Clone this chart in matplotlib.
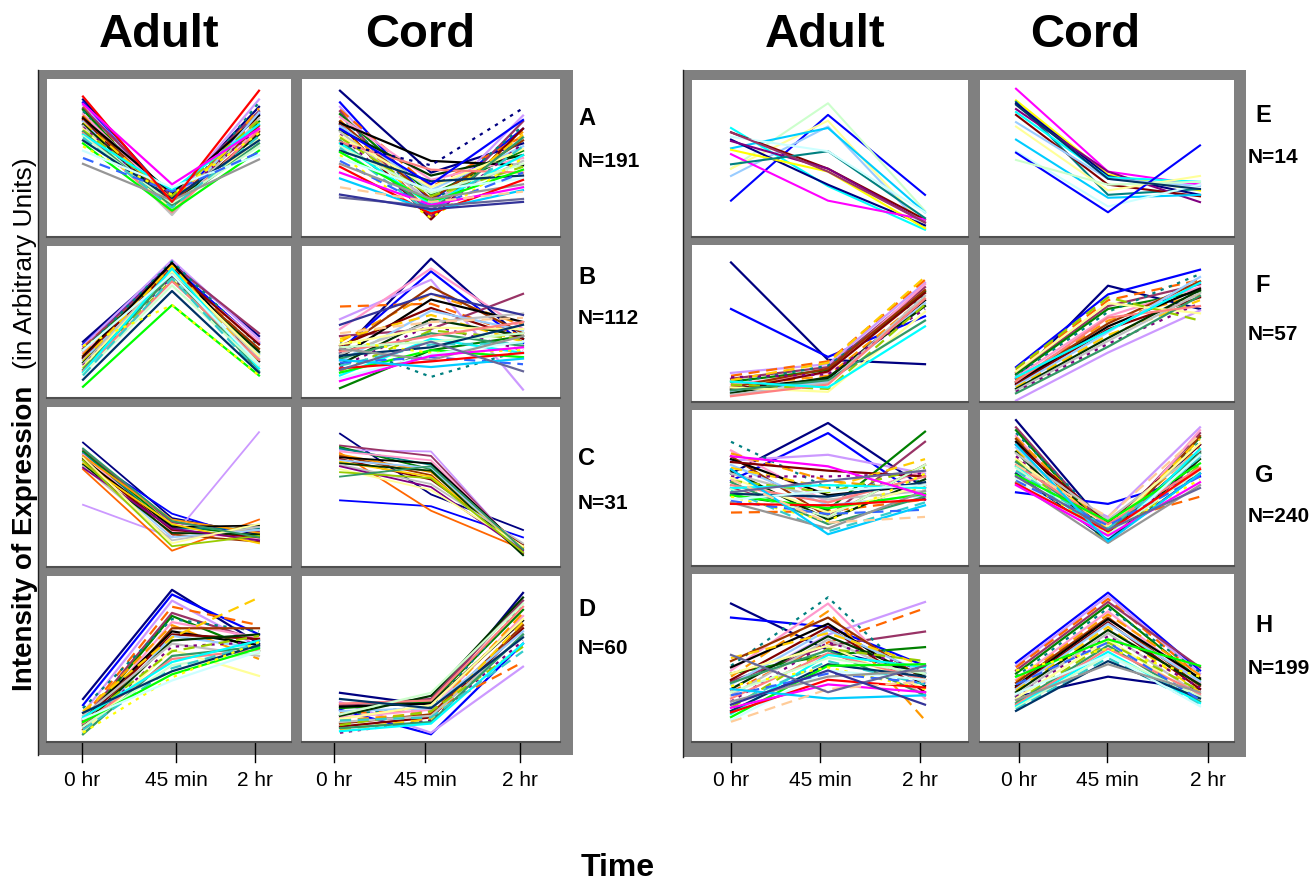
import matplotlib
matplotlib.use("Agg")
import matplotlib.pyplot as plt
from matplotlib.patches import Rectangle

plt.rcParams['font.family'] = ['Liberation Sans', 'DejaVu Sans']

# ---- data: each profile is (0 hr, 45 min, 2 hr), arbitrary units 0-100 ----
TIMES = ["0 hr", "45 min", "2 hr"]
CLUSTERS = ["A", "B", "C", "D", "E", "F", "G", "H"]
N_GENES = [191, 112, 31, 60, 14, 57, 240, 199]

A_ADULT = [(90,22,85),(88,18,80),(86,20,90),(85,15,78),(84,24,82),(83,17,75),(82,14,88),(80,21,70),
           (79,12,84),(78,19,72),(77,26,79),(76,16,68),(75,13,81),(74,22,74),(73,18,66),(72,11,77),
           (71,20,71),(70,15,63),(69,24,76),(68,17,60),(67,13,69),(66,28,73),(65,19,58),(64,16,65),
           (62,22,62),(60,14,55),(58,25,67),(55,30,52),(50,27,54),(46,21,49),(92,20,96),(87,32,70)]
A_CORD = [(96,40,60),(88,20,70),(85,15,79),(83,30,65),(82,10,75),(80,25,55),(79,18,72),(78,35,50),
          (76,12,68),(75,22,62),(74,48,45),(73,8,70),(72,28,58),(70,16,66),(69,38,52),(68,20,48),
          (66,10,60),(65,30,56),(64,24,44),(62,14,64),(61,42,40),(60,18,52),(58,26,46),(57,12,58),
          (55,34,38),(54,20,42),(52,9,50),(50,28,36),(48,16,40),(46,22,32),(44,12,35),(40,18,30),
          (36,14,28),(30,20,27),(23,17,22),(25,15,20),(60,45,84),(70,32,76)]
B_ADULT = [(36,92,40),(34,90,35),(33,94,38),(32,88,30),(31,91,42),(30,87,28),(29,93,33),(28,86,36),
           (27,89,25),(26,85,31),(25,92,22),(24,88,34),(23,84,27),(22,90,20),(21,83,29),(20,87,24),
           (19,82,18),(18,86,26),(17,80,21),(16,84,15),(15,79,23),(14,88,17),(13,76,19),(12,81,14),
           (9,72,14),(4,62,12),(33,62,12),(30,84,20)]
B_CORD = [(28,95,38),(30,86,35),(52,80,2),(61,63,40),(40,45,70),(3,30,40),(35,11,30),(45,88,45),
          (36,70,48),(30,75,42),(25,66,50),(33,60,38),(22,58,44),(38,55,36),(20,52,40),(27,50,56),
          (18,48,30),(34,46,45),(15,44,38),(24,42,33),(29,40,50),(12,38,28),(32,36,42),(19,34,35),
          (26,32,48),(14,30,25),(37,28,30),(10,27,36),(21,25,20),(31,23,40),(17,22,28),(8,26,32),
          (23,18,24),(42,50,53),(16,36,15),(48,70,55)]
C_ADULT = [(80,29,18),(72,32,14),(38,16,87),(62,7,28),(75,26,20),(74,24,17),(73,22,22),(72,20,15),
           (71,28,19),(70,18,13),(69,23,24),(68,21,16),(67,16,21),(66,25,12),(65,19,18),(64,14,23),
           (63,22,14),(70,12,25),(68,10,17),(76,27,16)]
C_CORD = [(86,45,21),(41,37,16),(75,74,5),(73,34,8),(78,71,6),(77,62,9),(76,65,4),(74,68,7),
          (72,60,10),(71,58,5),(70,66,8),(69,55,11),(68,63,6),(67,57,9),(66,61,4),(65,52,12),
          (64,50,7),(62,48,10),(60,56,6),(57,64,8)]
D_ADULT = [(24,95,60),(20,92,66),(15,88,58),(12,84,72),(10,80,62),(8,78,55),(18,76,68),(6,74,64),
           (14,72,50),(4,70,70),(11,68,59),(9,66,63),(2,65,57),(16,64,90),(7,62,66),(13,60,52),
           (5,58,61),(3,56,39),(10,55,65),(1,52,58),(8,50,56),(12,48,62),(6,46,54),(4,44,60),
           (15,42,59),(9,40,57),(2,38,61),(11,36,55)]
D_CORD = [(28,20,93),(17,1,60),(22,2,45),(15,16,48),(20,24,88),(18,22,82),(14,19,85),(12,17,78),
          (10,15,80),(8,14,72),(19,21,75),(6,12,70),(16,18,68),(4,11,74),(13,26,90),(9,13,65),
          (2,10,62),(11,20,76),(7,16,58),(5,9,66),(21,23,84),(3,8,60),(14,28,86),(10,12,55),(24,18,64)]
E_ADULT = [(21,80,25),(43,88,14),(43,76,3),(38,72,2),(57,71,13),(71,31,1),(68,43,8),(63,32,4),
           (62,43,6),(56,41,2),(53,21,8),(46,55,9),(65,55,13),(68,41,6)]
E_CORD = [(98,41,32),(90,39,28),(89,25,29),(88,38,25),(84,41,20),(82,37,34),(80,32,24),(75,36,31),
          (72,28,38),(63,23,25),(55,17,32),(54,13,59),(49,32,34),(87,36,29)]
F_ADULT = [(92,25,22),(60,27,55),(16,22,78),(14,24,80),(12,20,75),(10,18,72),(9,21,70),(8,16,77),
           (7,14,68),(6,19,73),(5,12,66),(4,17,71),(3,10,64),(11,23,82),(2,13,62),(1,9,69),
           (13,15,60),(6,3,58),(8,5,63),(4,11,52),(0,8,67),(10,6,48)]
F_CORD = [(12,76,60),(20,70,87),(-3,30,59),(18,66,80),(16,62,77),(15,60,72),(14,58,84),(13,55,75),
          (11,52,70),(10,50,79),(9,48,74),(8,46,68),(7,44,82),(6,42,66),(5,40,73),(4,38,71),
          (3,36,64),(17,64,57),(19,68,52),(2,34,69),(10,54,62),(13,45,78)]
G_ADULT = [(60,95,50),(55,88,42),(69,73,60),(33,34,42),(50,30,82),(45,35,89),(82,50,55),(76,40,62),
           (74,55,48),(72,30,66),(70,45,52),(68,62,58),(66,38,45),(64,50,70),(62,28,56),(60,42,48),
           (58,58,60),(57,33,52),(55,47,64),(54,25,44),(52,40,58),(50,52,50),(49,30,66),(48,20,40),
           (46,44,54),(45,36,46),(44,27,60),(42,48,52),(41,32,35),(40,22,48),(39,38,42),(72,65,45),
           (63,18,38),(56,26,30),(47,55,62)]
G_CORD = [(97,22,80),(47,39,58),(60,30,92),(70,26,44),(92,20,88),(90,18,85),(88,24,82),(86,16,90),
          (85,22,78),(84,14,86),(82,19,75),(80,26,80),(78,15,72),(76,21,84),(75,13,70),(74,28,76),
          (72,17,68),(70,23,81),(69,12,66),(68,20,74),(66,25,64),(65,15,77),(64,18,62),(62,22,71),
          (60,14,60),(59,27,67),(58,19,56),(56,16,73),(55,24,58),(54,12,52),(53,20,63),(52,17,54),
          (80,13,60),(66,30,87),(58,21,50)]
H_ADULT = [(85,55,40),(76,70,45),(30,65,86),(28,60,82),(35,58,67),(40,52,57),(45,89,30),(42,85,24),
           (38,80,10),(48,76,36),(44,72,32),(36,70,28),(33,68,40),(50,66,45),(30,64,38),(26,62,34),
           (22,60,42),(40,58,30),(18,56,48),(34,55,26),(24,53,36),(14,52,44),(28,50,40),(20,48,33),
           (16,46,38),(12,45,46),(32,44,30),(10,42,36),(26,40,34),(22,38,42),(15,36,31),(18,33,28),
           (30,24,26),(9,30,35),(52,28,45),(20,42,20)]
H_CORD = [(25,38,30),(47,92,42),(45,90,40),(44,88,38),(42,86,44),(40,84,36),(38,82,41),(36,80,34),
          (35,78,39),(34,76,32),(32,75,37),(31,73,30),(30,72,35),(29,70,28),(28,68,33),(26,66,26),
          (25,64,31),(24,62,24),(22,60,29),(21,58,22),(20,56,27),(19,54,21),(18,52,25),(17,50,20),
          (16,48,24),(38,62,45),(42,56,38),(27,52,19),(33,60,23),(23,46,28)]

# ---- styling ----
W, H = 1316, 886
GRAY = "#808080"
PALETTE = ['#000080','#FF00FF','#FFFF00','#00FFFF','#800080','#800000','#008080','#0000FF',
           '#00CCFF','#CCFFFF','#CCFFCC','#FFFF99','#99CCFF','#FF99CC','#CC99FF','#FFCC99',
           '#3366FF','#33CCCC','#99CC00','#FFCC00','#FF9900','#FF6600','#666699','#969696',
           '#003366','#339966','#003300','#993300','#993366','#333399','#FF0000','#00FF00',
           '#FF8080','#C0C0C0','#000000','#008000']
E_ADULT_COLORS = ['#0000FF','#CCFFCC','#FFFF99','#99CCFF','#00CCFF','#00FFFF','#800000','#000080',
                  '#800080','#FFFF00','#FF00FF','#008080','#CCFFFF','#993366']
E_CORD_COLORS = ['#FF00FF','#FFFF00','#008080','#000080','#800080','#00FFFF','#800000','#99CCFF',
                 '#FFFF99','#00CCFF','#CCFFFF','#0000FF','#CCFFCC','#003366']
STYLES = ['-', '-', '-', (0, (5, 3)), '-', '-', (0, (1.5, 2.5)), '-', (0, (5, 3)), '-']

# panel boxes in pixels
LEFT_COLS = [(47, 291), (302, 560)]
RIGHT_COLS = [(692, 968), (980, 1234)]
LEFT_ROWS = [(79, 237), (246, 398), (407, 567), (576, 742)]
RIGHT_ROWS = [(80, 237), (245, 402), (410, 566), (574, 742)]
LINE_X = {0: (83, 172, 259), 1: (340, 431, 523), 2: (731, 828, 925), 3: (1016, 1108, 1200)}
TICK_X = {0: (82, 176, 255), 1: (334, 425, 520), 2: (731, 820, 920), 3: (1019, 1107, 1208)}

fig = plt.figure(figsize=(W / 100, H / 100), dpi=100)
bg = fig.add_axes([0, 0, 1, 1])
bg.set_xlim(0, W)
bg.set_ylim(H, 0)
bg.axis('off')

# gray frames
bg.add_patch(Rectangle((38, 70), 573 - 38, 755 - 70, color=GRAY, lw=0))
bg.add_patch(Rectangle((683, 70), 1246 - 683, 757 - 70, color=GRAY, lw=0))
bg.plot([38, 38], [70, 755], color="#202020", lw=1)
bg.plot([683, 683], [70, 757], color="#202020", lw=1)


def panel(box, col, profiles, colors=None, lw=1.6, styled=True):
    x0, x1, y0, y1 = box
    ax = fig.add_axes([x0 / W, 1 - y1 / H, (x1 - x0) / W, (y1 - y0) / H])
    ax.set_xlim(x0, x1)
    ax.set_ylim(-4, 104)
    for i, p in enumerate(profiles):
        c = colors[i % len(colors)] if colors else PALETTE[(i * 7) % len(PALETTE)]
        ls = STYLES[i % len(STYLES)] if styled else '-'
        ax.plot(LINE_X[col], p, color=c, lw=lw, ls=ls)
    ax.set_xticks([])
    ax.set_yticks([])
    for s in ax.spines.values():
        s.set_visible(False)
    ax.spines['bottom'].set_visible(True)
    ax.spines['bottom'].set_color("#505050")
    ax.spines['bottom'].set_linewidth(1.5)
    return ax


left_sets = [(A_ADULT, A_CORD), (B_ADULT, B_CORD), (C_ADULT, C_CORD), (D_ADULT, D_CORD)]
right_sets = [(E_ADULT, E_CORD), (F_ADULT, F_CORD), (G_ADULT, G_CORD), (H_ADULT, H_CORD)]

for r, (ad, co) in enumerate(left_sets):
    y0, y1 = LEFT_ROWS[r]
    sty = r != 2
    w = 1.3 if r == 2 else 1.6
    panel((LEFT_COLS[0][0], LEFT_COLS[0][1], y0, y1), 0, ad, lw=w, styled=sty)
    panel((LEFT_COLS[1][0], LEFT_COLS[1][1], y0, y1), 1, co, lw=w, styled=sty)

for r, (ad, co) in enumerate(right_sets):
    y0, y1 = RIGHT_ROWS[r]
    if r == 0:
        panel((RIGHT_COLS[0][0], RIGHT_COLS[0][1], y0, y1), 2, ad, colors=E_ADULT_COLORS, lw=1.5, styled=False)
        panel((RIGHT_COLS[1][0], RIGHT_COLS[1][1], y0, y1), 3, co, colors=E_CORD_COLORS, lw=1.5, styled=False)
    else:
        panel((RIGHT_COLS[0][0], RIGHT_COLS[0][1], y0, y1), 2, ad)
        panel((RIGHT_COLS[1][0], RIGHT_COLS[1][1], y0, y1), 3, co)

# time ticks and labels under each column
for col in range(4):
    for tx, lab in zip(TICK_X[col], TIMES):
        bg.plot([tx, tx], [738, 762], color="black", lw=1)
        bg.text(tx, 781, lab, ha='center', va='center', fontsize=15)

# column titles
for cx, t in zip([159, 420, 825, 1085], ["Adult", "Cord", "Adult", "Cord"]):
    bg.text(cx, 35, t, ha='center', va='center', fontsize=34, fontweight='bold')

# cluster labels
lab_y = [(118, 161), (278, 318), (458, 503), (610, 648),
         (115, 157), (286, 335), (475, 516), (626, 669)]
for i, (name, n) in enumerate(zip(CLUSTERS, N_GENES)):
    xl, xn = (578, 578) if i < 4 else (1255, 1248)
    bg.text(xl, lab_y[i][0], name, ha='left', va='center', fontsize=17, fontweight='bold')
    bg.text(xn, lab_y[i][1], f"N={n}", ha='left', va='center', fontsize=15, fontweight='bold')

# axis titles
bg.text(25, 538, "Intensity of Expression", rotation=90, ha='center', va='center',
        fontsize=20, fontweight='bold')
bg.text(25, 263, "(in Arbitrary Units)", rotation=90, ha='center', va='center', fontsize=19)
bg.text(618, 868, "Time", ha='center', va='center', fontsize=23, fontweight='bold')

fig.savefig("out.png", dpi=100)
